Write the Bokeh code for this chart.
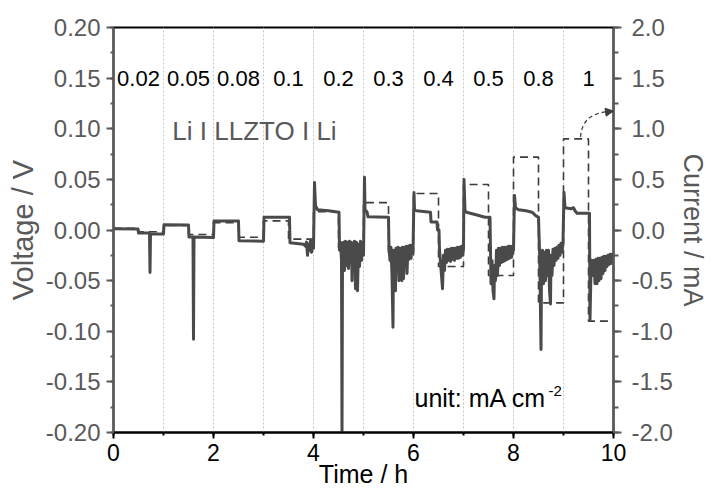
from bokeh.plotting import figure
from bokeh.models import (Range1d, LinearAxis, SingleIntervalTicker, FixedTicker,
                          NumeralTickFormatter, Label, Arrow, NormalHead)
from bokeh.core.properties import value
from bokeh.embed import file_html
from bokeh.resources import INLINE

# ---------------- data ----------------
seg_start_h = [0, 1, 2, 3, 4, 5, 6, 7, 8, 9]
rate_labels = ["0.02", "0.05", "0.08", "0.1", "0.2", "0.3", "0.4", "0.5", "0.8", "1"]
current_mA = [0.018, 0.045, 0.072, 0.09, 0.18, 0.27, 0.36, 0.45, 0.72, 0.9]

time_h = [
    0.00, 0.49, 0.50, 0.72, 0.73, 0.74, 1.00, 1.01, 1.50, 1.51, 1.59, 1.60, 1.61, 2.00,
    2.01, 2.50, 2.51, 3.00, 3.01, 3.52, 3.53, 3.80, 3.84, 3.86, 3.88, 3.90, 3.92, 3.94,
    3.96, 3.98, 4.00, 4.02, 4.04, 4.08, 4.30, 4.51,
    4.52, 4.54, 4.56, 4.57, 4.58, 4.60, 4.62, 4.64, 4.66, 4.68, 4.70, 4.72, 4.74, 4.76,
    4.77, 4.78, 4.80, 4.82, 4.84, 4.86, 4.88, 4.90, 4.92, 4.94, 4.96, 4.98, 5.00,
    5.02, 5.03, 5.07, 5.09, 5.50,
    5.51, 5.53, 5.55, 5.57, 5.59, 5.60, 5.62, 5.64, 5.65, 5.67, 5.69, 5.71, 5.73, 5.75,
    5.77, 5.78, 5.80, 5.82, 5.84, 5.86, 5.87, 5.89, 5.91, 5.93, 5.95, 5.97, 5.99,
    6.01, 6.02, 6.06, 6.34, 6.35, 6.47, 6.48, 6.51,
    6.52, 6.54, 6.56, 6.58, 6.60, 6.62, 6.64, 6.66, 6.68, 6.70, 6.72, 6.74, 6.76, 6.78,
    6.80, 6.82, 6.84, 6.86, 6.88, 6.90, 6.92, 6.94, 6.96, 6.98, 7.00,
    7.01, 7.03, 7.06, 7.25, 7.43, 7.53,
    7.54, 7.55, 7.57, 7.59, 7.61, 7.62, 7.64, 7.66, 7.68, 7.70, 7.72, 7.74, 7.76, 7.78,
    7.80, 7.82, 7.84, 7.86, 7.88, 7.90, 7.92, 7.94, 7.96, 7.98, 8.00,
    8.02, 8.04, 8.10, 8.25, 8.37, 8.45, 8.50,
    8.52, 8.53, 8.55, 8.56, 8.58, 8.60, 8.62, 8.64, 8.66, 8.68, 8.70, 8.72, 8.74, 8.75,
    8.77, 8.79, 8.81, 8.83, 8.85, 8.87, 8.89, 8.91, 8.93, 8.95, 8.97, 8.99,
    9.01, 9.03, 9.15, 9.20, 9.23, 9.27, 9.52,
    9.53, 9.55, 9.57, 9.59, 9.61, 9.63, 9.65, 9.67, 9.69, 9.71, 9.73, 9.75, 9.77, 9.79,
    9.81, 9.83, 9.85, 9.87, 9.89, 9.91, 9.93, 9.95, 9.97, 10.00,
]
voltage_V = [
    0.0012, 0.0010, -0.003, -0.003, -0.042, -0.004, -0.004, 0.0052, 0.0050, -0.007, -0.007, -0.108, -0.007, -0.0075,
    0.0088, 0.0088, -0.0105, -0.011, 0.0125, 0.0125, -0.0125, -0.014, -0.016, -0.012, -0.025, -0.014, -0.020, -0.010,
    -0.022, -0.014, -0.018, 0.047, 0.024, 0.020, 0.019, 0.0176,
    -0.020, -0.012, -0.030, -0.200, -0.025, -0.012, -0.040, -0.011, -0.035, -0.012, -0.038, -0.011, -0.032, -0.012,
    -0.050, -0.013, -0.038, -0.011, -0.058, -0.012, -0.060, -0.014, -0.036, -0.011, -0.030, -0.012, -0.025,
    0.052, 0.020, 0.018, 0.013, 0.0125,
    -0.018, -0.030, -0.017, -0.045, -0.096, -0.020, -0.032, -0.060, -0.018, -0.035, -0.017, -0.050, -0.018, -0.030,
    -0.050, -0.017, -0.048, -0.017, -0.030, -0.016, -0.043, -0.016, -0.029, -0.015, -0.028, -0.015, -0.022,
    0.037, 0.020, 0.019, 0.0176, 0.008, 0.008, 0.000, 0.000,
    -0.020, -0.032, -0.045, -0.058, -0.025, -0.040, -0.020, -0.032, -0.019, -0.030, -0.019, -0.031, -0.018, -0.029,
    -0.018, -0.030, -0.018, -0.028, -0.017, -0.028, -0.017, -0.027, -0.016, -0.025, -0.018,
    0.050, 0.019, 0.0176, 0.015, 0.0126, 0.0125,
    -0.020, -0.053, -0.030, -0.060, -0.068, -0.035, -0.050, -0.020, -0.045, -0.018, -0.035, -0.018, -0.032, -0.017,
    -0.031, -0.017, -0.030, -0.017, -0.029, -0.016, -0.028, -0.016, -0.027, -0.016, -0.020,
    0.034, 0.022, 0.020, 0.019, 0.0176, 0.014, 0.0126,
    -0.020, -0.045, -0.118, -0.040, -0.020, -0.053, -0.022, -0.050, -0.020, -0.045, -0.020, -0.060, -0.073, -0.025,
    -0.045, -0.019, -0.035, -0.018, -0.030, -0.017, -0.028, -0.015, -0.025, -0.013, -0.022, -0.012,
    0.037, 0.022, 0.021, 0.022, 0.019, 0.0166, 0.0166,
    -0.089, -0.040, -0.030, -0.045, -0.030, -0.053, -0.029, -0.053, -0.028, -0.050, -0.028, -0.048, -0.027, -0.043,
    -0.026, -0.040, -0.026, -0.036, -0.025, -0.034, -0.024, -0.033, -0.024, -0.027,
]

# ---------------- styling ----------------
FONT = "Liberation Sans"
GREY = "#595959"
TRACE = "#4a4a4a"

p = figure(frame_width=500, frame_height=405, x_range=Range1d(0, 10), y_range=Range1d(-0.2, 0.2),
           output_backend="svg", toolbar_location=None,
           min_border_left=113, min_border_right=90, min_border_top=27, min_border_bottom=50)
p.extra_y_ranges = {"current": Range1d(-2, 2)}
p.background_fill_color = "white"
p.border_fill_color = "white"
p.outline_line_color = "black"
p.outline_line_width = 2

p.ygrid.visible = False
p.xgrid.ticker = FixedTicker(ticks=seg_start_h[1:])
p.xgrid.grid_line_color = "#c4c4c4"
p.xgrid.grid_line_dash = "2 2"
p.xgrid.grid_line_width = 1

# bottom axis
xa = p.xaxis[0]
xa.ticker = SingleIntervalTicker(interval=2, num_minor_ticks=2)
xa.axis_line_color = "black"
xa.axis_line_width = 2
xa.major_tick_line_color = "black"
xa.minor_tick_line_color = "black"
xa.major_tick_line_width = 2
xa.minor_tick_line_width = 2
xa.major_tick_in = 0
xa.major_tick_out = 6
xa.minor_tick_in = 0
xa.minor_tick_out = 3
xa.major_label_text_font = FONT
xa.major_label_text_font_size = "23px"
xa.major_label_text_color = "black"
xa.major_label_standoff = 5
xa.axis_label = "Time / h"
xa.axis_label_text_font = FONT
xa.axis_label_text_font_size = "25px"
xa.axis_label_text_font_style = "normal"
xa.axis_label_text_color = "black"
xa.axis_label_standoff = -4

# left axis
ya = p.yaxis[0]
ya.ticker = SingleIntervalTicker(interval=0.05, num_minor_ticks=2)
ya.formatter = NumeralTickFormatter(format="0.00")
ya.axis_line_color = GREY
ya.axis_line_width = 2
ya.major_tick_line_color = GREY
ya.minor_tick_line_color = GREY
ya.major_tick_line_width = 2
ya.minor_tick_line_width = 2
ya.major_tick_in = 0
ya.major_tick_out = 7
ya.minor_tick_in = 0
ya.minor_tick_out = 3
ya.major_label_text_font = FONT
ya.major_label_text_font_size = "24px"
ya.major_label_text_color = GREY
ya.major_label_standoff = 6
ya.axis_label = "Voltage / V"
ya.axis_label_text_font = FONT
ya.axis_label_text_font_size = "29px"
ya.axis_label_text_font_style = "normal"
ya.axis_label_text_color = GREY
ya.axis_label_standoff = 4

# right axis
ra = LinearAxis(y_range_name="current",
                ticker=SingleIntervalTicker(interval=0.5, num_minor_ticks=2),
                formatter=NumeralTickFormatter(format="0.0"))
ra.axis_line_color = GREY
ra.axis_line_width = 2
ra.major_tick_line_color = GREY
ra.minor_tick_line_color = GREY
ra.major_tick_line_width = 2
ra.minor_tick_line_width = 2
ra.major_tick_in = 0
ra.major_tick_out = 8
ra.minor_tick_in = 0
ra.minor_tick_out = 5
ra.major_label_text_font = FONT
ra.major_label_text_font_size = "24px"
ra.major_label_text_color = GREY
ra.major_label_standoff = 10
ra.axis_label = "Current / mA"
ra.axis_label_text_font = FONT
ra.axis_label_text_font_size = "27px"
ra.axis_label_text_font_style = "normal"
ra.axis_label_text_color = GREY
ra.axis_label_standoff = 2
p.add_layout(ra, "right")

# current (dashed step) built from the per-segment currents
cur_t, cur_i = [], []
for s, i in zip(seg_start_h, current_mA):
    cur_t += [s, s + 0.5, s + 0.5, s + 1]
    cur_i += [i, i, -i, -i]
p.line(cur_t, cur_i, y_range_name="current", line_color="#3c3c3c", line_width=1.6,
       line_dash="8 5")

# voltage trace
p.line(time_h, voltage_V, line_color=TRACE, line_width=3, line_join="round")

# rate labels
p.text(x=[s + 0.5 for s in seg_start_h], y=[0.15] * len(seg_start_h), text=rate_labels,
       text_font=value(FONT), text_font_size="22px", text_align="center",
       text_baseline="middle", text_color="black")

p.add_layout(Label(x=2.82, y=0.098, text="Li I LLZTO I Li", text_font=FONT,
                   text_font_size="26px", text_color=GREY, text_align="center",
                   text_baseline="middle"))

p.add_layout(Label(x=6.02, y=-0.1664, text="unit: mA cm", text_font=FONT,
                   text_font_size="25px", text_color="black", text_align="left",
                   text_baseline="alphabetic"))
p.add_layout(Label(x=6.02, y=-0.1664, x_offset=134, y_offset=7, text="-2", text_font=FONT,
                   text_font_size="15px", text_color="black", text_align="left",
                   text_baseline="alphabetic"))

# dashed curved arrow pointing to the current axis
p.bezier(x0=[9.34], y0=[0.92], x1=[9.93], y1=[1.17], cx0=[9.37], cy0=[1.10],
         cx1=[9.6], cy1=[1.16], y_range_name="current", line_color="#3c3c3c",
         line_width=1.3, line_dash="4 3")
p.add_layout(Arrow(end=NormalHead(size=8, fill_color="#3c3c3c", line_color="#3c3c3c"),
                   x_start=9.93, y_start=1.17, x_end=10.0, y_end=1.175,
                   y_range_name="current", line_color="#3c3c3c", line_width=1.3))

open("out.html", "w").write(file_html(p, INLINE))
